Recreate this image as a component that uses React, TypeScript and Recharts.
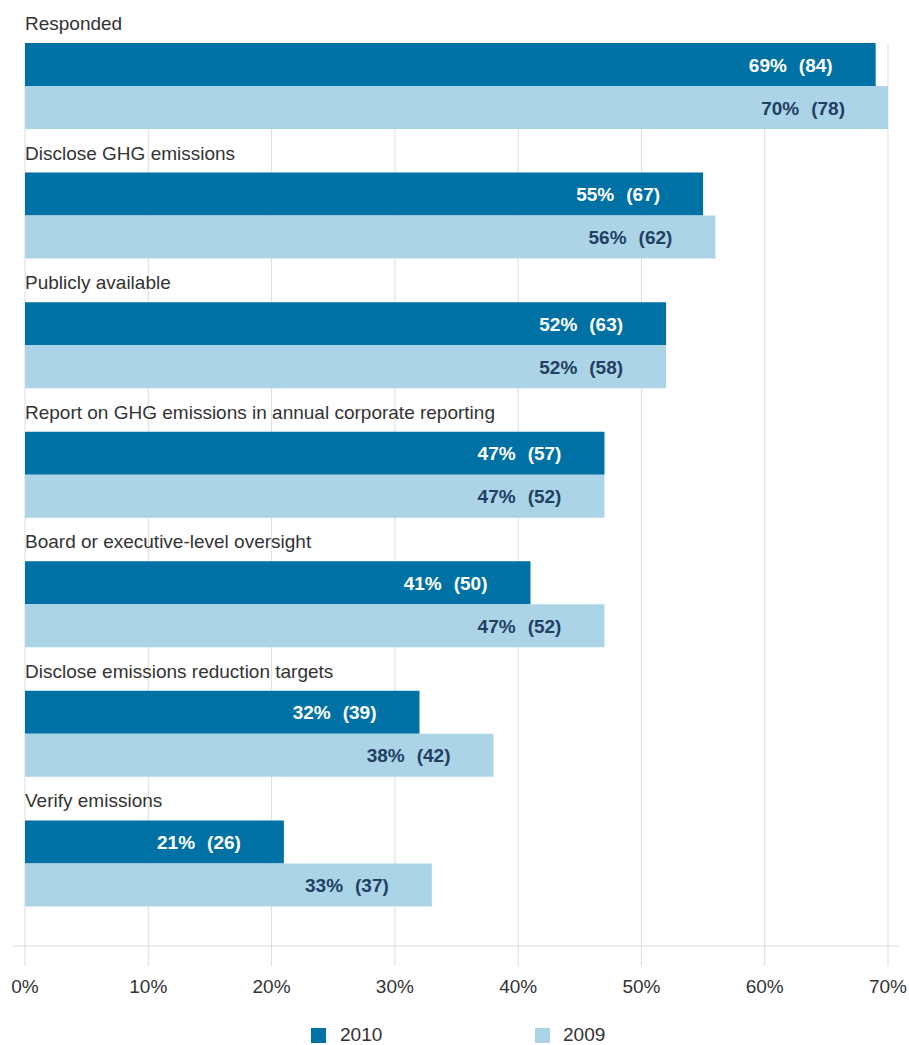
import { BarChart, Bar, XAxis, YAxis, CartesianGrid, Legend, LabelList } from "recharts";

const categories = [
  "Responded",
  "Disclose GHG emissions",
  "Publicly available",
  "Report on GHG emissions in annual corporate reporting",
  "Board or executive-level oversight",
  "Disclose emissions reduction targets",
  "Verify emissions",
];
const pct2010 = [69, 55, 52, 47, 41, 32, 21];
const pct2009 = [70, 56, 52, 47, 47, 38, 33];
const count2010 = [84, 67, 63, 57, 50, 39, 26];
const count2009 = [78, 62, 58, 52, 52, 42, 37];
const xTicks = [0, 10, 20, 30, 40, 50, 60, 70];

const COLOR_2010 = "#0071A4";
const COLOR_2009 = "#ACD4E7";
const FONT = "'Liberation Sans', Arial, Helvetica, sans-serif";

// spacer keeps an empty third slot in each band, where the next category title sits
const data = categories.map((name, i) => ({
  name,
  y2010: pct2010[i],
  y2009: pct2009[i],
  spacer: 0,
}));

// category title drawn just above the 2010 bar
const CategoryLabel = (props: any) => {
  const { y, value } = props;
  return (
    <text x={25} y={Number(y) - 13} fill="#333" fontSize={19} fontFamily={FONT}>
      {value}
    </text>
  );
};

const makeBarLabel = (counts: number[], color: string) => (props: any) => {
  const { x, y, width, height, value, index } = props;
  const right = Number(x) + Number(width) - 43;
  const base = Number(y) + Number(height) / 2 + 7;
  return (
    <text x={right} y={base} textAnchor="end" fill={color} fontSize={19} fontWeight="bold" fontFamily={FONT}>
      <tspan>{value}%</tspan>
      <tspan dx={12}>({counts[index]})</tspan>
    </text>
  );
};

const renderLegend = () => (
  <div style={{ position: "relative", width: 909, height: 22, fontFamily: FONT, fontSize: 19, color: "#333" }}>
    <span style={{ position: "absolute", left: 311, top: 6, width: 15, height: 15, background: COLOR_2010 }} />
    <span style={{ position: "absolute", left: 340, top: 2, lineHeight: "normal" }}>2010</span>
    <span style={{ position: "absolute", left: 535, top: 6, width: 15, height: 15, background: COLOR_2009 }} />
    <span style={{ position: "absolute", left: 563, top: 2, lineHeight: "normal" }}>2009</span>
  </div>
);

export default function App() {
  return (
    <div style={{ position: "absolute", left: 0, top: 0, width: 909, height: 1045, background: "#fff" }}>
      <BarChart
        width={909}
        height={1045}
        data={data}
        layout="vertical"
        barCategoryGap={0}
        barGap={0}
        margin={{ top: 43, right: 9, left: 12, bottom: 39 }}
      >
        {/* syncWithTicks: no extra lines at the plot edges */}
        <CartesianGrid horizontal={false} stroke="#dcdcdc" syncWithTicks />
        <XAxis
          type="number"
          domain={[0, 70]}
          ticks={xTicks}
          tickFormatter={(v: number) => `${v}%`}
          padding={{ left: 13, right: 12 }}
          height={60}
          tick={{ fill: "#333", fontSize: 19, fontFamily: FONT }}
          axisLine={{ stroke: "#dcdcdc" }}
          tickLine={{ stroke: "#dcdcdc" }}
          tickSize={20}
          tickMargin={14}
        />
        <YAxis
          type="category"
          dataKey="name"
          width={0}
          interval={0}
          axisLine={false}
          tickLine={false}
          tick={false}
          padding={{ top: 0, bottom: -4 }}
        />
        <Legend
          layout="horizontal"
          verticalAlign="middle"
          align="center"
          wrapperStyle={{ left: 0, top: 1022, width: 909 }}
          content={renderLegend}
        />
        <Bar dataKey="y2010" name="2010" fill={COLOR_2010} isAnimationActive={false}>
          <LabelList dataKey="y2010" content={makeBarLabel(count2010, "#ffffff")} />
          <LabelList dataKey="name" content={<CategoryLabel />} />
        </Bar>
        <Bar dataKey="y2009" name="2009" fill={COLOR_2009} isAnimationActive={false}>
          <LabelList dataKey="y2009" content={makeBarLabel(count2009, "#223F64")} />
        </Bar>
        <Bar dataKey="spacer" fill="none" legendType="none" isAnimationActive={false} />
      </BarChart>
    </div>
  );
}
